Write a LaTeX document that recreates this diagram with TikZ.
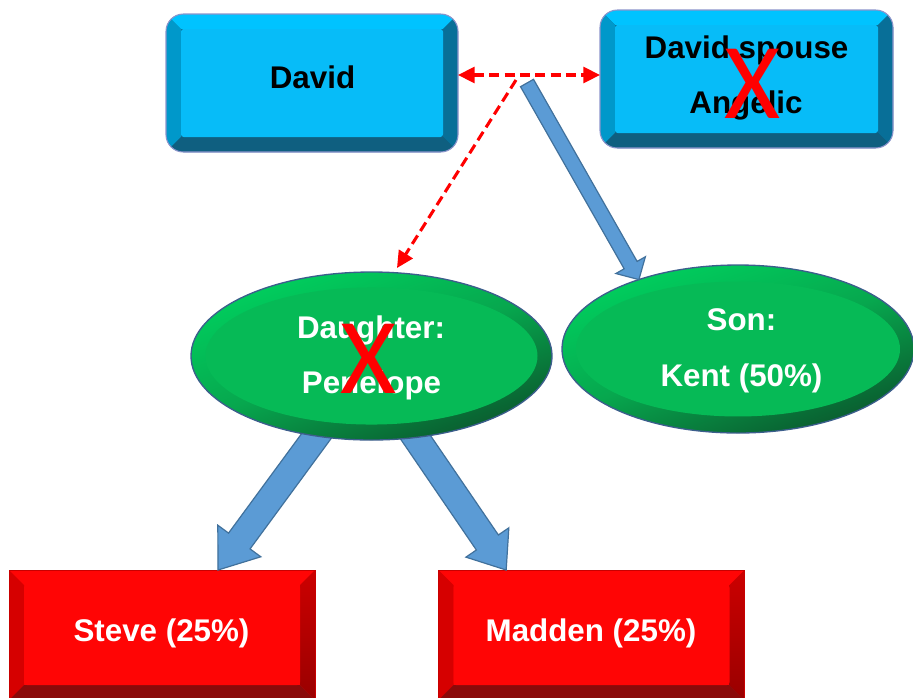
\documentclass[tikz,border=0pt]{standalone}
\usepackage{fontspec}
\setmainfont{Liberation Sans}
\newfontfamily\crossfont{Carlito}
\usetikzlibrary{calc,shapes.geometric,arrows.meta}

% bevelled blue boxes
\definecolor{bbFace}{HTML}{07BCF8}
\definecolor{bbTop}{HTML}{00C3FF}
\definecolor{bbLeft}{HTML}{0098CA}
\definecolor{bbRight}{HTML}{086F98}
\definecolor{bbBottom}{HTML}{0F5F80}
\definecolor{bbEdge}{HTML}{8C94CC}
% green ovals
\definecolor{gFace}{HTML}{06BA56}
\definecolor{gLight}{HTML}{00CF5E}
\definecolor{gDark}{HTML}{0A5A2E}
\definecolor{gEdge}{HTML}{3C5E8C}
% red bevel boxes
\definecolor{rFace}{HTML}{FF0505}
\definecolor{rLeft}{HTML}{D60000}
\definecolor{rRight}{HTML}{990000}
\definecolor{rRightTop}{HTML}{CC0000}
\definecolor{rBottom}{HTML}{8A0A0A}
\definecolor{rEdge}{HTML}{C80000}
% block arrows
\definecolor{arrFill}{HTML}{5B9BD5}
\definecolor{arrEdge}{HTML}{41719C}

% four bevel strips and the flat face, drawn inside a node's path picture
% #1 bevel width, #2 top, #3 left, #4 right, #5 bottom, #6 face
\newcommand\bevelfill[6]{%
  \coordinate (bNW) at (path picture bounding box.north west);
  \coordinate (bNE) at (path picture bounding box.north east);
  \coordinate (bSW) at (path picture bounding box.south west);
  \coordinate (bSE) at (path picture bounding box.south east);
  \coordinate (iNW) at ([shift={(#1,-#1)}]bNW);
  \coordinate (iNE) at ([shift={(-#1,-#1)}]bNE);
  \coordinate (iSW) at ([shift={(#1,#1)}]bSW);
  \coordinate (iSE) at ([shift={(-#1,#1)}]bSE);
  \fill[#2, sharp corners] (bNW) -- (bNE) -- (iNE) -- (iNW) -- cycle;
  \fill[#3, sharp corners] (bNW) -- (iNW) -- (iSW) -- (bSW) -- cycle;
  \fill[#4, sharp corners] (bNE) -- (iNE) -- (iSE) -- (bSE) -- cycle;
  \fill[#5, sharp corners] (bSW) -- (iSW) -- (iSE) -- (bSE) -- cycle;
  \fill[#6, rounded corners=2pt] (iNW) rectangle (iSE);
}

% wide block arrow: #1 tail, #2 tip, #3 half shaft, #4 half head, #5 head length
\newcommand\blockarrow[5]{%
  \coordinate (ba-h) at ($(#2)!#5!(#1)$);
  \filldraw[blockarrowstyle]
    ($(#1)!#3!90:(#2)$) -- ($(ba-h)!#3!90:(#2)$) -- ($(ba-h)!#4!90:(#2)$)
    -- (#2)
    -- ($(ba-h)!#4!-90:(#2)$) -- ($(ba-h)!#3!-90:(#2)$) -- ($(#1)!#3!-90:(#2)$)
    -- cycle;
}

\tikzset{
  bluebox/.style={draw=bbEdge, line width=0.8pt, fill=bbBottom,
    rounded corners=13pt, inner sep=0pt, outer sep=0pt,
    minimum width=219pt, minimum height=103.5pt,
    path picture={\bevelfill{11.25pt}{bbTop}{bbLeft}{bbRight}{bbBottom}{bbFace}}},
  redbox/.style={draw=rEdge, line width=0.6pt, fill=rFace,
    inner sep=0pt, outer sep=0pt,
    minimum width=229.5pt, minimum height=97.5pt,
    path picture={\bevelfill{11.25pt}{rFace}{rLeft}{top color=rRightTop,bottom color=rRight}{rBottom}{rFace}}},
  greenoval/.style n args={4}{ellipse, draw=gEdge, line width=1pt,
    inner sep=0pt, outer sep=0pt,
    top color=gLight, bottom color=gDark, middle color=gFace!80!gDark, shading angle=20,
    minimum width=#1, minimum height=#2,
    path picture={\fill[gFace] (path picture bounding box.center) ellipse [x radius=#3, y radius=#4];}},
  lbl/.style={font=\fontsize{23.5pt}{28pt}\selectfont\bfseries, anchor=base, inner sep=0pt},
  cross/.style={font=\crossfont\fontsize{81pt}{81pt}\selectfont, text=red, anchor=base, inner sep=0pt},
  dashline/.style={red, line width=2.3pt, dash pattern=on 7.5pt off 4pt},
  dashtip/.tip={Triangle[length=12.5pt,width=12pt]},
  blockarrowstyle/.style={fill=arrFill, draw=arrEdge, line width=0.9pt, line join=miter},
}

\begin{document}
\begin{tikzpicture}[x=0.75pt, y=-0.75pt]
  \clip (0,0) rectangle (913,697);
  \fill[white] (0,0) rectangle (913,697);

  % parents
  \node[bluebox] (david) at (312,83) {};
  \node[bluebox, minimum width=219.75pt] (spouse) at (746.5,79) {};

  % grandchildren boxes
  \node[redbox] (steve) at (162,635) {};
  \node[redbox] (madden) at (591.5,635) {};

  % block arrows from the daughter (tails tucked under the oval)
  \coordinate (tip2) at ([xshift=42pt]steve.north);
  \coordinate (tip3) at ([xshift=-64pt]madden.north);
  \coordinate (tail2) at ($(371.5,356)!0.93!(316.7,436)$);
  \coordinate (tail3) at ($(371.5,356)!0.93!(414.8,437.5)$);
  \blockarrow{tail2}{tip2}{10pt}{20pt}{27pt}
  \blockarrow{tail3}{tip3}{10pt}{19.5pt}{25pt}

  % children
  \node[greenoval={270.75pt}{126pt}{124.5pt}{51.4pt}] (daughter) at (371.5,356) {};
  \node[greenoval={264pt}{126pt}{121.5pt}{50.6pt}] (son) at (738,349) {};

  % marriage link and the link down to the daughter
  \coordinate (junction) at (517,75);
  \coordinate (jdown) at (516,80);
  \coordinate (dtip) at (397,268);
  \draw[dashline, dashtip-dashtip]
    (david.east |- junction) -- (spouse.west |- junction);
  \draw[dashline, -dashtip] (jdown) -- (dtip);

  % block arrow down to the son
  \coordinate (tail1) at (527,83);
  \blockarrow{tail1}{son.145}{5.6pt}{12.75pt}{12.5pt}

  % labels
  \node[lbl] (david-t) at (312.5,88) {David};
  \node[lbl] (spouse-t1) at (746.5,58) {David spouse};
  \node[lbl] (spouse-t2) at (746,113) {Angelic};
  \node[lbl, text=white] (daughter-t1) at (371,338) {Daughter:};
  \node[lbl, text=white] (daughter-t2) at (371.5,393) {Penelope};
  \node[lbl, text=white] (son-t1) at (741.5,330) {Son:};
  \node[lbl, text=white] (son-t2) at (741.5,386) {Kent (50\%)};
  \node[lbl, text=white] (steve-t) at (161.5,641) {Steve (25\%)};
  \node[lbl, text=white] (madden-t) at (591,641) {Madden (25\%)};

  % crossed-out names
  \node[cross] (spouse-x) at (752.5,118) {X};
  \node[cross] (daughter-x) at (369,393) {X};
\end{tikzpicture}
\end{document}
